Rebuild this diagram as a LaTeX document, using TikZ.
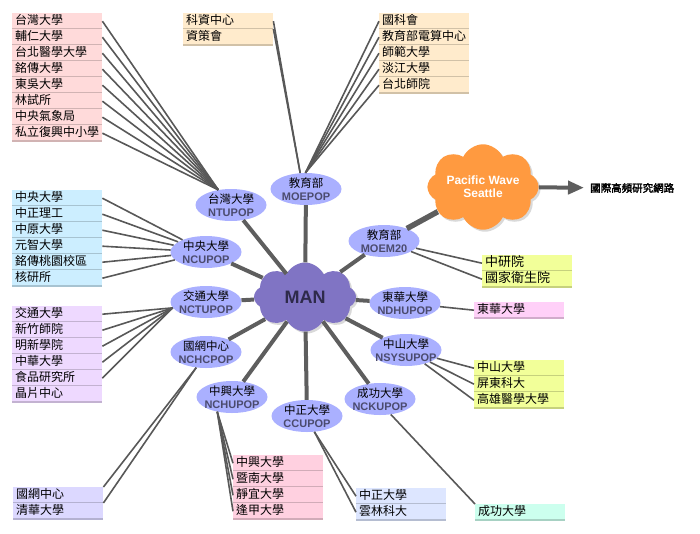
\documentclass[tikz,border=0pt]{standalone}
\usepackage{fontspec}
\setmainfont{Liberation Sans}
\newfontfamily\cjk{Noto Sans CJK TC}
\newfontfamily\cjkheavy{Noto Sans CJK TC}[FakeBold=2.5]
\usetikzlibrary{shapes.geometric,shapes.symbols,shadows,arrows.meta}
\definecolor{popblue}{HTML}{AAB0FF}
\definecolor{popname}{HTML}{4B4B6E}
\definecolor{manpurple}{HTML}{8074C4}
\definecolor{mantext}{HTML}{2E2A4A}
\definecolor{pworange}{HTML}{FF9A40}
\definecolor{linkgray}{HTML}{585858}
\definecolor{trunkgray}{HTML}{5E5E5E}
\definecolor{ntupink}{HTML}{FFDADA}
\definecolor{moebeige}{HTML}{FFEBCC}
\definecolor{ncucyan}{HTML}{CCEEFF}
\definecolor{nctuviolet}{HTML}{EED9FF}
\definecolor{nchclav}{HTML}{DCD8FF}
\definecolor{nchupink}{HTML}{FFD0E0}
\definecolor{ccublue}{HTML}{DDE6FF}
\definecolor{nckumint}{HTML}{CCFFEE}
\definecolor{nsysyellow}{HTML}{F2FF99}
\definecolor{ndhupink}{HTML}{FFD0F8}
\newcommand{\popid}[1]{{\bfseries\fontsize{11}{13.5}\selectfont\color{popname}#1}}
\begin{document}
\begin{tikzpicture}[x=1pt,y=-1pt,
    cell/.style={anchor=north west, fill=#1, minimum height=16pt, text width=84pt, inner xsep=3pt, inner ysep=0pt, align=left,
      text height=9.5pt, text depth=2.5pt, font=\cjk\fontsize{12}{14}\selectfont,
      path picture={\draw[line width=2pt,#1!82!black] (path picture bounding box.south west) -- (path picture bounding box.south east);}},
    pop/.style={ellipse, fill=popblue, minimum width=71pt, minimum height=32pt, inner sep=0pt},
    poptext/.style={align=center, inner sep=0pt, font=\fontsize{11.5}{13.5}\selectfont},
    mancloud/.style={cloud, cloud puffs=8, cloud puff arc=130, aspect=1.48, minimum width=102pt, minimum height=69pt, inner sep=0pt, fill=manpurple,
      drop shadow={opacity=0.3,shadow xshift=2pt,shadow yshift=-2pt}, text=mantext, font=\bfseries\fontsize{18}{20}\selectfont},
    pwcloud/.style={cloud, cloud puffs=8, cloud puff arc=130, aspect=1.58, minimum width=103pt, minimum height=65pt, inner sep=0pt, fill=pworange,
      drop shadow={opacity=0.3,shadow xshift=2pt,shadow yshift=-2pt}, text=white, align=center, font=\bfseries\fontsize{12}{13}\selectfont},
    link/.style={linkgray, line width=1.6pt},
    trunk/.style={trunkgray, line width=4pt}]
    \useasboundingbox (0,0) rectangle (700,533);

    % clouds and POPs
    \node[mancloud] (man) at (305,297) {MAN};
    \node[pwcloud] (pw) at (483,187) {Pacific Wave\\Seattle};
    \node[font=\cjkheavy\fontsize{10.5}{12}\selectfont, inner sep=0pt, anchor=west] (intl) at (590,188) {國際高頻研究網路};

    \node[pop, label={[poptext]center:{\cjk 台灣大學}\\\popid{NTUPOP}}] (ntu) at (231,205) {};
    \node[pop, label={[poptext]center:{\cjk 教育部}\\\popid{MOEPOP}}] (moe) at (306,189) {};
    \node[pop, label={[poptext]center:{\cjk 中央大學}\\\popid{NCUPOP}}] (ncu) at (206,252) {};
    \node[pop, label={[poptext]center:{\cjk 交通大學}\\\popid{NCTUPOP}}] (nctu) at (206,302) {};
    \node[pop, label={[poptext]center:{\cjk 國網中心}\\\popid{NCHCPOP}}] (nchc) at (206,352) {};
    \node[pop, label={[poptext]center:{\cjk 中興大學}\\\popid{NCHUPOP}}] (nchu) at (232,397) {};
    \node[pop, label={[poptext]center:{\cjk 中正大學}\\\popid{CCUPOP}}] (ccu) at (307,416) {};
    \node[pop, label={[poptext]center:{\cjk 成功大學}\\\popid{NCKUPOP}}] (ncku) at (380,399) {};
    \node[pop, label={[poptext]center:{\cjk 中山大學}\\\popid{NSYSUPOP}}] (nsys) at (406,350) {};
    \node[pop, label={[poptext]center:{\cjk 東華大學}\\\popid{NDHUPOP}}] (ndhu) at (405,303) {};
    \node[pop, label={[poptext]center:{\cjk 教育部}\\\popid{MOEM20}}] (moem) at (384,241) {};

    % member lists
    \foreach \t [count=\i] in {台灣大學,輔仁大學,台北醫學大學,銘傳大學,東吳大學,林試所,中央氣象局,私立復興中小學} \node[cell=ntupink] (tw\i) at (12,16*\i-3) {\t};
    \foreach \t [count=\i] in {科資中心,資策會} \node[cell=moebeige] (kz\i) at (183,16*\i-3) {\t};
    \foreach \t [count=\i] in {國科會,教育部電算中心,師範大學,淡江大學,台北師院} \node[cell=moebeige] (nsc\i) at (379,16*\i-3) {\t};
    \foreach \t [count=\i] in {中央大學,中正理工,中原大學,元智大學,銘傳桃園校區,核研所} \node[cell=ncucyan] (ncl\i) at (12,16*\i+174) {\t};
    \foreach \t [count=\i] in {交通大學,新竹師院,明新學院,中華大學,食品研究所,晶片中心} \node[cell=nctuviolet] (jt\i) at (12,16*\i+290) {\t};
    \foreach \t [count=\i] in {國網中心,清華大學} \node[cell=nchclav] (gw\i) at (13,16*\i+471) {\t};
    \foreach \t [count=\i] in {中興大學,暨南大學,靜宜大學,逢甲大學} \node[cell=nchupink] (zx\i) at (233,16*\i+439) {\t};
    \foreach \t [count=\i] in {中正大學,雲林科大} \node[cell=ccublue] (zz\i) at (356,16*\i+472) {\t};
    \node[cell=nckumint] (ck1) at (475,504) {成功大學};
    \foreach \t [count=\i] in {中山大學,屏東科大,高雄醫學大學} \node[cell=nsysyellow] (zs\i) at (474,16*\i+344) {\t};
    \node[cell=ndhupink] (dh1) at (474,302) {東華大學};
    \foreach \t [count=\i] in {中研院,國家衛生院} \node[cell=nsysyellow, font=\cjk\fontsize{13}{15}\selectfont] (zy\i) at (482,16*\i+239) {\t};

    % access links
    \foreach \i in {1,...,8} \draw[link] (tw\i.east) -- (ntu.130);
    \draw[link] (kz1.east) -- (moe.110);
    \draw[link] (kz2.north east) -- (moe.110);
    \foreach \i in {1,...,5} \draw[link] (nsc\i.west) -- (moe.92);
    \foreach \i in {1,...,6} \draw[link] (ncl\i.east) -- (ncu);
    \foreach \i in {1,...,5} \draw[link] (jt\i.east) -- (nctu.190);
    \foreach \i in {1,2} \draw[link] (gw\i.north east) -- (nchc.238);
    \foreach \i in {1,...,4} \draw[link] (zx\i.west) -- (nchu.225);
    \foreach \i in {1,2} \draw[link] (zz\i.west) -- (ccu.295);
    \draw[link] (ck1.north west) -- (ncku.305);
    \foreach \i in {1,2,3} \draw[link] (zs\i.west) -- (nsys);
    \draw[link] (dh1.west) -- (ndhu);
    \foreach \i in {1,2} \draw[link] (zy\i.west) -- (moem);

    % backbone
    \foreach \p in {ntu,moe,ncu,nctu,nchc,nchu,ccu,ncku,nsys,ndhu,moem} \draw[trunk] (man) -- (\p);
    \draw[trunk, line width=5.5pt] (moem) -- (pw);
    \draw[trunk, shorten >=6pt, -{Triangle[length=16pt,width=13pt]}] (pw) -- (intl);
\end{tikzpicture}
\end{document}
